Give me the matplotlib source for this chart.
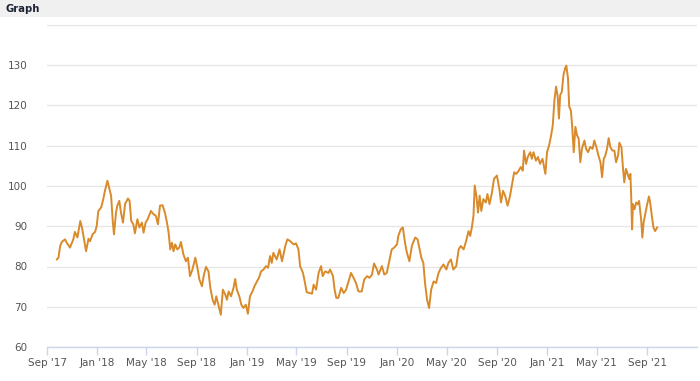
import matplotlib
matplotlib.use("Agg")
import matplotlib.pyplot as plt
import matplotlib.dates as mdates
import pandas as pd

dates = [
    "2017-09-25", "2017-09-29", "2017-10-03", "2017-10-07", "2017-10-15", "2017-10-19", "2017-10-27",
    "2017-11-04", "2017-11-08", "2017-11-14", "2017-11-21", "2017-11-26", "2017-12-01", "2017-12-05",
    "2017-12-11", "2017-12-15", "2017-12-21", "2017-12-27", "2017-12-31", "2018-01-04", "2018-01-11",
    "2018-01-16", "2018-01-20", "2018-01-26", "2018-01-30", "2018-02-04", "2018-02-08", "2018-02-11",
    "2018-02-16", "2018-02-19", "2018-02-24", "2018-02-28", "2018-03-05", "2018-03-10", "2018-03-17",
    "2018-03-21", "2018-03-25", "2018-03-30", "2018-04-03", "2018-04-09", "2018-04-14", "2018-04-20",
    "2018-04-24", "2018-04-29", "2018-05-04", "2018-05-12", "2018-05-18", "2018-05-24", "2018-05-29",
    "2018-06-03", "2018-06-09", "2018-06-15", "2018-06-20", "2018-06-24", "2018-06-28",
    "2018-07-02", "2018-07-06", "2018-07-10", "2018-07-15", "2018-07-20", "2018-07-24", "2018-07-30",
    "2018-08-05", "2018-08-10", "2018-08-15", "2018-08-21", "2018-08-28", "2018-09-02", "2018-09-07",
    "2018-09-13", "2018-09-18", "2018-09-23", "2018-09-29", "2018-10-03", "2018-10-09", "2018-10-14",
    "2018-10-18", "2018-10-23", "2018-10-29", "2018-11-03", "2018-11-09", "2018-11-13", "2018-11-17",
    "2018-11-23", "2018-11-29", "2018-12-03", "2018-12-07", "2018-12-13", "2018-12-18", "2018-12-23",
    "2018-12-29", "2019-01-03", "2019-01-08", "2019-01-14", "2019-01-19", "2019-01-25", "2019-01-30",
    "2019-02-04", "2019-02-10", "2019-02-16", "2019-02-21", "2019-02-26",
    "2019-03-02", "2019-03-06", "2019-03-14", "2019-03-21", "2019-03-27", "2019-04-04", "2019-04-09",
    "2019-04-16", "2019-04-24", "2019-04-30", "2019-05-06", "2019-05-10", "2019-05-17", "2019-05-22",
    "2019-05-26", "2019-06-03", "2019-06-08", "2019-06-12", "2019-06-18", "2019-06-24", "2019-06-30",
    "2019-07-04", "2019-07-10", "2019-07-18", "2019-07-22", "2019-07-29", "2019-08-02", "2019-08-06",
    "2019-08-11", "2019-08-18", "2019-08-24", "2019-08-30", "2019-09-05", "2019-09-11", "2019-09-17",
    "2019-09-23", "2019-09-29", "2019-10-07", "2019-10-13", "2019-10-20", "2019-10-26", "2019-11-01",
    "2019-11-06", "2019-11-13", "2019-11-17", "2019-11-25", "2019-12-01", "2019-12-07", "2019-12-14",
    "2019-12-19", "2019-12-25", "2020-01-01", "2020-01-04", "2020-01-10", "2020-01-15", "2020-01-21",
    "2020-01-25", "2020-01-31", "2020-02-06", "2020-02-14", "2020-02-20", "2020-02-25", "2020-02-29",
    "2020-03-05", "2020-03-09", "2020-03-14", "2020-03-19", "2020-03-24", "2020-03-30", "2020-04-05",
    "2020-04-11", "2020-04-17", "2020-04-23", "2020-04-30", "2020-05-05", "2020-05-11", "2020-05-17",
    "2020-05-24", "2020-05-30", "2020-06-04", "2020-06-11", "2020-06-17", "2020-06-23", "2020-06-27",
    "2020-07-01", "2020-07-05", "2020-07-08",
    "2020-07-12", "2020-07-16", "2020-07-20", "2020-07-24", "2020-07-29", "2020-08-04", "2020-08-08",
    "2020-08-13", "2020-08-19", "2020-08-24", "2020-08-31", "2020-09-06", "2020-09-10", "2020-09-15",
    "2020-09-20", "2020-09-26", "2020-10-02", "2020-10-09", "2020-10-12", "2020-10-17", "2020-10-23",
    "2020-10-28", "2020-11-02", "2020-11-05", "2020-11-10", "2020-11-14", "2020-11-20", "2020-11-24",
    "2020-11-28", "2020-12-04", "2020-12-09", "2020-12-14", "2020-12-20", "2020-12-27", "2020-12-31",
    "2021-01-05", "2021-01-10", "2021-01-14", "2021-01-18", "2021-01-22", "2021-01-26", "2021-01-29",
    "2021-02-01", "2021-02-05", "2021-02-09", "2021-02-13", "2021-02-16", "2021-02-20", "2021-02-23",
    "2021-02-27", "2021-03-02", "2021-03-06", "2021-03-10", "2021-03-14", "2021-03-18", "2021-03-22",
    "2021-03-26", "2021-04-01", "2021-04-05", "2021-04-10", "2021-04-15", "2021-04-21", "2021-04-25",
    "2021-04-30", "2021-05-05", "2021-05-10", "2021-05-14", "2021-05-18", "2021-05-22", "2021-05-26",
    "2021-05-30", "2021-06-03", "2021-06-08", "2021-06-13", "2021-06-17", "2021-06-22", "2021-06-25",
    "2021-06-30", "2021-07-04", "2021-07-07", "2021-07-11", "2021-07-15", "2021-07-19", "2021-07-22",
    "2021-07-24", "2021-07-26", "2021-07-28", "2021-08-01", "2021-08-05", "2021-08-09", "2021-08-12",
    "2021-08-17", "2021-08-20", "2021-08-23", "2021-08-27", "2021-08-31", "2021-09-05", "2021-09-08",
    "2021-09-12", "2021-09-16", "2021-09-20", "2021-09-25",
]

values = [
    81.75, 82.2, 85.1, 86.1, 86.75, 85.9, 84.7,
    86.75, 88.6, 87.2, 91.3, 89.25, 86.3, 83.8,
    86.9, 86.3, 88.0, 88.6, 90.1, 93.8, 94.7,
    96.75, 98.8, 101.3, 99.7, 97.6, 91.3, 88.0,
    93.4, 95.1, 96.3, 93.4, 90.9, 95.5, 96.9,
    96.3, 91.3, 90.5, 88.25, 91.75, 89.7, 90.9,
    88.4, 90.9, 91.75, 93.8, 93.0, 92.6, 90.5,
    95.1, 95.25, 93.4, 90.9, 88.4, 84.25,
    85.9, 83.8, 85.5, 84.25, 84.7, 86.1, 83.0,
    81.3, 82.2, 77.6, 79.25, 82.2, 79.7, 76.75,
    75.1, 78.0, 79.9, 78.8, 75.1, 71.75, 70.5,
    72.6, 70.5, 68.0, 74.25, 73.0, 71.75, 73.8,
    72.6, 74.7, 76.9, 74.25, 72.6, 70.5, 69.7,
    70.5, 68.25, 72.6, 73.8, 75.1, 76.3, 77.2,
    78.8, 79.25, 80.1, 79.7, 82.6,
    80.9, 83.4, 81.75, 84.25, 81.3, 85.1, 86.75,
    86.3, 85.5, 85.75, 84.25, 80.1, 78.4, 75.9,
    73.6, 73.4, 73.25, 75.5, 74.25, 78.4, 80.1,
    77.6, 78.8, 78.4, 79.25, 77.6, 74.25, 72.2,
    72.2, 74.7, 73.4, 74.25, 76.3, 78.4, 77.2,
    75.9, 73.8, 73.8, 76.75, 77.6, 77.2, 78.0,
    80.75, 79.25, 78.0, 80.1, 78.0, 78.4, 81.75,
    84.25, 84.7, 85.5, 87.6, 89.25, 89.7, 85.5,
    83.4, 81.3, 85.1, 87.2, 86.75, 84.25, 82.2,
    80.9, 75.9, 71.75, 69.7, 74.25, 76.3, 75.9,
    78.4, 79.7, 80.5, 79.25, 80.9, 81.75, 79.25,
    80.1, 84.25, 85.1, 84.25, 86.3, 88.8, 87.6,
    89.7, 92.6, 100.1,
    97.6, 93.4, 97.6, 93.8, 96.75, 95.9, 98.0,
    95.5, 98.4, 101.75, 102.6, 99.25, 95.9, 98.8,
    97.6, 95.1, 97.6, 101.75, 103.4, 103.0, 103.8,
    104.7, 103.8, 108.8, 105.5, 107.2, 108.4, 106.75,
    108.4, 106.3, 107.2, 105.5, 106.75, 103.0, 108.4,
    110.1, 112.6, 115.1, 121.3, 124.7, 122.2, 116.75,
    122.6, 123.4, 127.6, 129.25, 129.9, 126.75, 119.7,
    118.8, 115.1, 108.4, 114.7, 112.6, 111.75, 105.9,
    109.25, 111.3, 109.25, 108.4, 109.7, 109.25, 111.3,
    109.7, 107.6, 105.9, 102.2, 106.75, 107.6, 109.25,
    111.9, 109.7, 108.8, 108.8, 105.9, 107.6, 110.75,
    109.7, 104.25, 100.9, 104.25, 103.0, 101.75, 103.0,
    96.75, 89.25, 95.5, 94.25, 95.9, 95.5, 96.3,
    91.75, 87.2, 90.9, 93.0, 95.1, 97.4, 95.9,
    92.6, 89.7, 88.8, 89.7,
]

y_ticks = [60, 70, 80, 90, 100, 110, 120, 130, 140]
y_tick_labels = ["60", "70", "80", "90", "100", "110", "120", "130", ""]
x_start = "2017-09-01"
x_end = "2021-12-31"
title_text = "Graph"

W, H = 700, 381
fig = plt.figure(figsize=(W / 100, H / 100), dpi=100)
fig.patch.set_facecolor("white")

# header bar
fig.patches.append(plt.Rectangle((0, 1 - 16.5 / H), 1, 16.5 / H, transform=fig.transFigure,
                                 facecolor="#f0f0f0", edgecolor="none", zorder=0))
fig.text(5 / W, 1 - 8.5 / H, title_text, fontsize=7.2, fontweight="bold", color="#1c2333",
         ha="left", va="center")

left, right, top, bottom = 47, 697, 25, 347
ax = fig.add_axes([left / W, 1 - bottom / H, (right - left) / W, (bottom - top) / H])

x = pd.to_datetime(dates)
ax.plot(x, values, color="#d98a2a", linewidth=1.4, solid_joinstyle="round", zorder=3)

ax.set_ylim(60, 140)
ax.set_xlim(pd.Timestamp(x_start), pd.Timestamp(x_end))
ax.set_yticks(y_ticks)
ax.set_yticklabels(y_tick_labels)
ax.yaxis.grid(True, color="#e6e6e6", linewidth=1)
ax.set_axisbelow(True)

ax.xaxis.set_major_locator(mdates.MonthLocator(bymonth=[1, 5, 9]))
ax.xaxis.set_major_formatter(mdates.DateFormatter("%b '%y"))

for s in ["left", "right", "top"]:
    ax.spines[s].set_visible(False)
ax.spines["bottom"].set_color("#ccd6eb")
ax.spines["bottom"].set_linewidth(1)

ax.tick_params(axis="y", length=0, pad=14, labelsize=7.5, labelcolor="#555555")
ax.tick_params(axis="x", length=6, width=1, color="#ccd6eb", pad=2, labelsize=7.5,
               labelcolor="#555555")

fig.savefig("out.png", dpi=100, facecolor="white")
